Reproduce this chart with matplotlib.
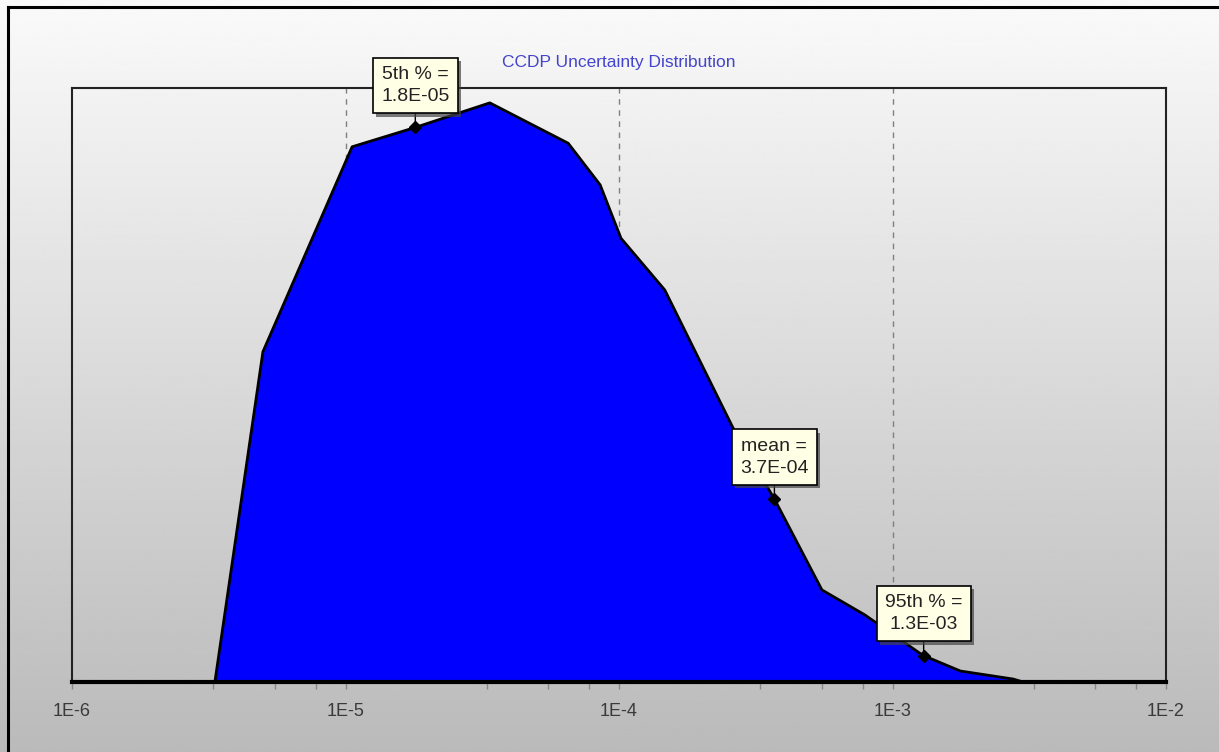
import numpy as np
import matplotlib
matplotlib.use("Agg")
import matplotlib.pyplot as plt
import matplotlib.patheffects as pe
from matplotlib.lines import Line2D

plt.rcParams["font.family"] = ["Liberation Sans", "DejaVu Sans"]

# CCDP values (log-spaced) and relative frequency
ccdp = [1.0e-6, 3.33e-6, 4.99e-6, 1.057e-5, 1.81e-5, 3.37e-5, 6.52e-5, 8.53e-5,
        1.017e-4, 1.47e-4, 2.61e-4, 3.72e-4, 5.52e-4, 7.92e-4, 1.29e-3,
        1.77e-3, 2.76e-3, 3.0e-3, 1.0e-2]
freq = [0.0, 0.0, 0.556, 0.901, 0.934, 0.975, 0.907, 0.837,
        0.747, 0.660, 0.428, 0.306, 0.155, 0.113, 0.045,
        0.0185, 0.005, 0.0, 0.0]

stat_names = ["5th % =", "mean =", "95th % ="]
stat_vals = [1.8e-5, 3.7e-4, 1.3e-3]
stat_text = ["1.8E-05", "3.7E-04", "1.3E-03"]

title = "CCDP Uncertainty Distribution"
major_ticks = [1e-6, 1e-5, 1e-4, 1e-3, 1e-2]
major_labels = ["1E-6", "1E-5", "1E-4", "1E-3", "1E-2"]

fig = plt.figure(figsize=(12.19, 7.52), dpi=100)

# gradient background over the whole figure
bg = fig.add_axes([0, 0, 1, 1], zorder=-10)
grad = np.linspace(0.98, 0.73, 256).reshape(-1, 1)
bg.imshow(grad, aspect="auto", cmap="gray", vmin=0, vmax=1, extent=[0, 1, 0, 1])
bg.set_axis_off()

# outer frame (top and left only visible)
fig.add_artist(Line2D([8 / 1219, 8 / 1219], [0, 1 - 7 / 752], color="black", lw=2.2,
                      transform=fig.transFigure))
fig.add_artist(Line2D([8 / 1219, 1], [1 - 7 / 752, 1 - 7 / 752], color="black", lw=2.2,
                      transform=fig.transFigure))

ax = fig.add_axes([72 / 1219, 1 - 682 / 752, 1094 / 1219, 594 / 752])
ax.set_facecolor("none")
ax.set_xscale("log")
ax.set_xlim(1e-6, 1e-2)
ax.set_ylim(0, 1.0)

for g in major_ticks[1:-1]:
    ax.axvline(g, color="#808080", lw=1, ls=(0, (4, 4)), zorder=1)

ax.fill_between(ccdp, freq, 0, color="#0000FF", zorder=2, lw=0)
ax.plot(ccdp, freq, color="black", lw=2, zorder=3, solid_joinstyle="round")

for s in ["top", "left", "right"]:
    ax.spines[s].set_linewidth(1.5)
    ax.spines[s].set_color("#222222")
ax.spines["bottom"].set_linewidth(3)
ax.spines["bottom"].set_color("black")
ax.spines["bottom"].set_zorder(4)

ax.set_yticks([])
ax.set_xticks(major_ticks)
ax.set_xticklabels(major_labels)
minor = []
for d in range(-6, -2):
    for f in (0.516, 0.742, 0.892):
        minor.append(10 ** (d + f))
ax.set_xticks(minor, minor=True)
ax.tick_params(axis="x", which="both", direction="out", length=5, width=1,
               color="#888888", labelsize=13, labelcolor="#3a3a3a", pad=10)
ax.tick_params(axis="x", which="minor", labelbottom=False)

ax.text(0.5, 1 + 26 / 594, title, transform=ax.transAxes, ha="center", va="center",
        color="#4444CC", fontsize=12.5)

lx = np.log10(ccdp)
for name, val, txt in zip(stat_names, stat_vals, stat_text):
    yv = np.interp(np.log10(val), lx, freq)
    ax.plot([val], [yv], marker="D", color="black", ms=6, zorder=6)
    ann = ax.annotate(name + "\n" + txt, xy=(val, yv), xytext=(0, 42),
                      textcoords="offset pixels", ha="center", va="center",
                      fontsize=14, linespacing=1.4, zorder=7, color="#222222",
                      bbox=dict(boxstyle="square,pad=0.42", fc="#FFFFE6", ec="black", lw=1.2),
                      arrowprops=dict(arrowstyle="-", color="black", lw=1,
                                      shrinkA=0, shrinkB=0))
    ann.get_bbox_patch().set_path_effects([
        pe.SimplePatchShadow(offset=(2.5, -2.5), shadow_rgbFace="#444444", alpha=0.7),
        pe.Normal()])

fig.savefig("out.png", dpi=100)
